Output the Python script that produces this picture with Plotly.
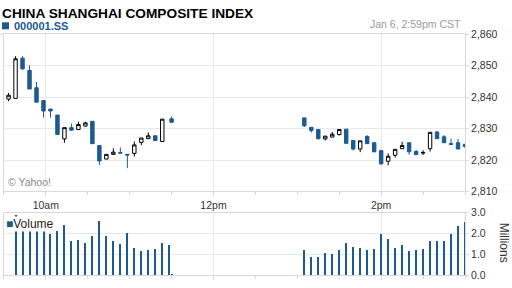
import plotly.graph_objects as go

DATE = "2014-01-06"
BLUE = "#1d5a91"
FONT = "Liberation Sans, Arial, sans-serif"

# ---- data ----
candle_times = [
    "09:33:20", "09:38:20", "09:43:20", "09:48:20", "09:53:20", "09:58:20",
    "10:03:20", "10:08:20", "10:13:20", "10:18:20", "10:23:20", "10:28:20",
    "10:33:20", "10:38:20", "10:43:20", "10:48:20", "10:53:20", "10:58:20",
    "11:03:20", "11:08:20", "11:13:20", "11:18:20", "11:23:20", "11:30:00",
    "13:05", "13:10", "13:15", "13:20", "13:25", "13:30",
    "13:35", "13:40", "13:45", "13:50", "13:55", "14:00",
    "14:05", "14:10", "14:15", "14:20", "14:25", "14:30",
    "14:35", "14:40", "14:45", "14:50", "14:55", "15:00",
]
opens = [
    2839.4, 2839.6, 2852.4, 2848.5, 2843.0, 2838.9, 2836.2, 2834.3, 2826.7, 2830.3, 2829.7, 2830.8,
    2832.3, 2824.6, 2820.3, 2821.8, 2822.4, 2821.8, 2822.1, 2825.6, 2826.8, 2827.7, 2825.9, 2833.1,
    2833.4, 2830.4, 2829.7, 2826.7, 2827.3, 2828.1, 2829.8, 2826.2, 2823.5, 2827.5, 2825.5, 2823.0,
    2819.6, 2821.5, 2823.6, 2825.5, 2822.7, 2822.2, 2823.6, 2828.9, 2827.4, 2825.2, 2825.5, 2825.0,
]
highs = [
    2841.3, 2853.0, 2853.0, 2850.1, 2844.8, 2838.9, 2836.2, 2834.3, 2830.3, 2831.6, 2832.2, 2832.2,
    2832.3, 2824.6, 2821.8, 2823.7, 2824.0, 2821.8, 2825.9, 2827.0, 2828.8, 2827.7, 2833.0, 2833.8,
    2833.4, 2830.4, 2829.7, 2827.6, 2828.9, 2829.7, 2829.8, 2826.2, 2826.1, 2827.9, 2825.5, 2823.0,
    2822.1, 2823.4, 2825.8, 2825.5, 2823.3, 2823.1, 2828.8, 2829.3, 2827.9, 2826.8, 2826.7, 2825.0,
]
lows = [
    2838.7, 2839.6, 2848.7, 2842.6, 2838.4, 2833.5, 2833.5, 2828.1, 2825.5, 2829.3, 2829.7, 2830.6,
    2825.2, 2818.4, 2820.3, 2821.8, 2822.2, 2817.4, 2821.1, 2824.7, 2826.7, 2826.2, 2825.9, 2832.0,
    2830.5, 2828.7, 2826.5, 2826.2, 2827.3, 2827.8, 2825.3, 2823.0, 2822.5, 2825.2, 2822.6, 2818.4,
    2818.3, 2820.8, 2823.6, 2821.7, 2821.7, 2821.6, 2822.7, 2826.8, 2825.5, 2824.7, 2823.5, 2823.8,
]
closes = [
    2840.6, 2852.2, 2849.0, 2842.6, 2838.4, 2835.6, 2835.6, 2828.1, 2830.3, 2829.5, 2831.3, 2831.8,
    2825.2, 2819.7, 2821.8, 2822.5, 2822.2, 2821.6, 2824.8, 2827.0, 2827.7, 2826.2, 2833.0, 2832.0,
    2830.9, 2829.4, 2826.8, 2827.6, 2828.2, 2829.7, 2825.3, 2823.5, 2826.1, 2825.2, 2822.6, 2818.8,
    2821.2, 2823.4, 2824.6, 2822.6, 2821.7, 2822.4, 2828.8, 2826.8, 2825.5, 2825.0, 2823.5, 2824.3,
]

volume_times = [
    "09:38:20", "09:43:20", "09:48:20", "09:53:20", "09:58:20", "10:03:20",
    "10:08:20", "10:13:20", "10:18:20", "10:23:20", "10:28:20", "10:33:20",
    "10:38:20", "10:43:20", "10:48:20", "10:53:20", "10:58:20", "11:03:20",
    "11:08:20", "11:13:20", "11:18:20", "11:23:20", "11:28:20", "11:30:00",
    "13:05", "13:10", "13:15", "13:20", "13:25", "13:30",
    "13:35", "13:40", "13:45", "13:50", "13:55", "14:00",
    "14:05", "14:10", "14:15", "14:20", "14:25", "14:30",
    "14:35", "14:40", "14:45", "14:50", "14:55", "15:00",
]
volumes_millions = [
    2.90, 2.77, 2.30, 2.25, 2.70, 2.00, 2.12, 2.45, 1.64, 1.73, 1.56, 1.91,
    2.64, 1.91, 1.64, 1.50, 2.05, 1.32, 1.18, 1.23, 1.27, 1.59, 1.45, 0.06,
    1.23, 0.92, 0.92, 1.09, 1.05, 1.23, 1.55, 1.36, 1.32, 1.23, 1.29, 2.00,
    1.74, 1.32, 1.45, 1.18, 1.23, 1.29, 1.68, 1.64, 1.64, 2.00, 2.36, 2.59,
]

x_tick_times = ["10:00", "12:00", "14:00"]
x_tick_labels = ["10am", "12pm", "2pm"]
price_ticks = [2810, 2820, 2830, 2840, 2850, 2860]
volume_ticks = [0.0, 1.0, 2.0, 3.0]

title = "CHINA SHANGHAI COMPOSITE INDEX"
symbol = "000001.SS"
timestamp = "Jan 6, 2:59pm CST"

# ---- figure ----
def ts(t):
    return f"{DATE} {t}"

W, H = 512, 288
x_dom = [3.9 / W, 465.0 / W]
price_dom = [1 - 193.5 / H, 1 - 29.5 / H]
vol_dom = [1 - 281.0 / H, 1 - 215.5 / H]

fig = go.Figure()
fig.add_trace(go.Candlestick(
    x=[ts(t) for t in candle_times], open=opens, high=highs, low=lows, close=closes,
    increasing=dict(line=dict(color="#000000", width=1), fillcolor="#ffffff"),
    decreasing=dict(line=dict(color=BLUE, width=1), fillcolor=BLUE),
    whiskerwidth=0, hoverinfo="skip", showlegend=False, xaxis="x", yaxis="y",
))
fig.add_trace(go.Bar(
    x=[ts(t) for t in volume_times], y=volumes_millions, width=50000,
    marker=dict(color=BLUE, line=dict(width=0)), showlegend=False,
    hoverinfo="skip", xaxis="x2", yaxis="y2",
))

grid = "#e6e8ec"
axline = "#d9d9d9"
tickfont = dict(family=FONT, size=10.5, color="#333333")

xcommon = dict(
    domain=x_dom, type="date", range=[ts("09:30"), ts("15:00")],
    tickmode="array", tickvals=[ts(t) for t in x_tick_times], ticktext=x_tick_labels,
    showgrid=True, gridcolor=grid, gridwidth=1,
    showline=True, linecolor=axline, linewidth=1, mirror=True,
    ticks="outside", ticklen=4, tickcolor=axline,
    minor=dict(ticks="outside", ticklen=3, tickcolor=axline, dtick=30 * 60 * 1000,
               tick0=ts("09:30"), showgrid=False),
    zeroline=False, fixedrange=True,
)

fig.update_layout(
    width=W, height=H, autosize=False,
    margin=dict(l=0, r=0, t=0, b=0),
    paper_bgcolor="#ffffff", plot_bgcolor="#ffffff",
    font=dict(family=FONT, size=10.5, color="#333333"),
    xaxis=dict(**xcommon, anchor="y", showticklabels=True, tickfont=tickfont,
               rangeslider=dict(visible=False)),
    xaxis2=dict(**xcommon, anchor="y2", matches="x", showticklabels=False),
    yaxis=dict(domain=price_dom, range=[price_ticks[0], price_ticks[-1]], side="right",
               tickmode="array", tickvals=price_ticks, ticktext=[f"{v:,}" for v in price_ticks],
               showgrid=True, gridcolor=grid, showline=True, linecolor=axline, mirror=True,
               ticks="outside", ticklen=3, tickcolor=axline, tickfont=tickfont,
               zeroline=False, fixedrange=True, anchor="x"),
    yaxis2=dict(domain=vol_dom, range=[volume_ticks[0], volume_ticks[-1]], side="right",
                tickmode="array", tickvals=volume_ticks, ticktext=[f"{v:.1f}" for v in volume_ticks],
                showgrid=True, gridcolor=grid, showline=True, linecolor=axline, mirror=True,
                ticks="outside", ticklen=3, tickcolor=axline, tickfont=tickfont,
                zeroline=False, fixedrange=True, anchor="x2"),
    bargap=0,
    shapes=[
        dict(type="line", xref="paper", yref="y domain", x0=0, x1=x_dom[0], y0=1, y1=1,
             line=dict(color=axline, width=1)),
        dict(type="rect", xref="paper", yref="paper", x0=2 / W, x1=9 / W,
             y0=1 - 24.3 / H, y1=1 - 17 / H, fillcolor=BLUE, line=dict(width=0)),
    ],
    annotations=[
        dict(text=f"<b>{title}</b>", xref="paper", yref="paper", x=0, y=1 - 8.3 / H,
             xanchor="left", yanchor="middle", showarrow=False,
             font=dict(family=FONT, size=13.7, color="#000000")),
        dict(text=f"<b>{symbol}</b>", xref="paper", yref="paper", x=12 / W, y=1 - 20.8 / H,
             xanchor="left", yanchor="middle", showarrow=False,
             font=dict(family=FONT, size=11, color=BLUE)),
        dict(text=timestamp, xref="paper", yref="paper", x=463 / W, y=1 - 18.3 / H,
             xanchor="right", yanchor="middle", showarrow=False,
             font=dict(family=FONT, size=10.5, color="#9a9a9a")),
        dict(text="© Yahoo!", xref="paper", yref="paper", x=6 / W, y=1 - 183.5 / H,
             xanchor="left", yanchor="middle", showarrow=False,
             font=dict(family=FONT, size=10.5, color="#8a8a8a")),
        dict(text=f"<span style='color:{BLUE}'>■</span>Volume", xref="paper", yref="paper",
             x=5 / W, y=1 - 227.5 / H, xanchor="left", yanchor="middle", showarrow=False,
             bgcolor="#ffffff", borderpad=0,
             font=dict(family=FONT, size=12, color="#222222")),
        dict(text="Millions", xref="paper", yref="paper", x=504 / W, y=1 - 247 / H,
             xanchor="center", yanchor="middle", showarrow=False, textangle=90,
             font=dict(family=FONT, size=12, color="#333333")),
    ],
)

fig.write_html("out.html")
